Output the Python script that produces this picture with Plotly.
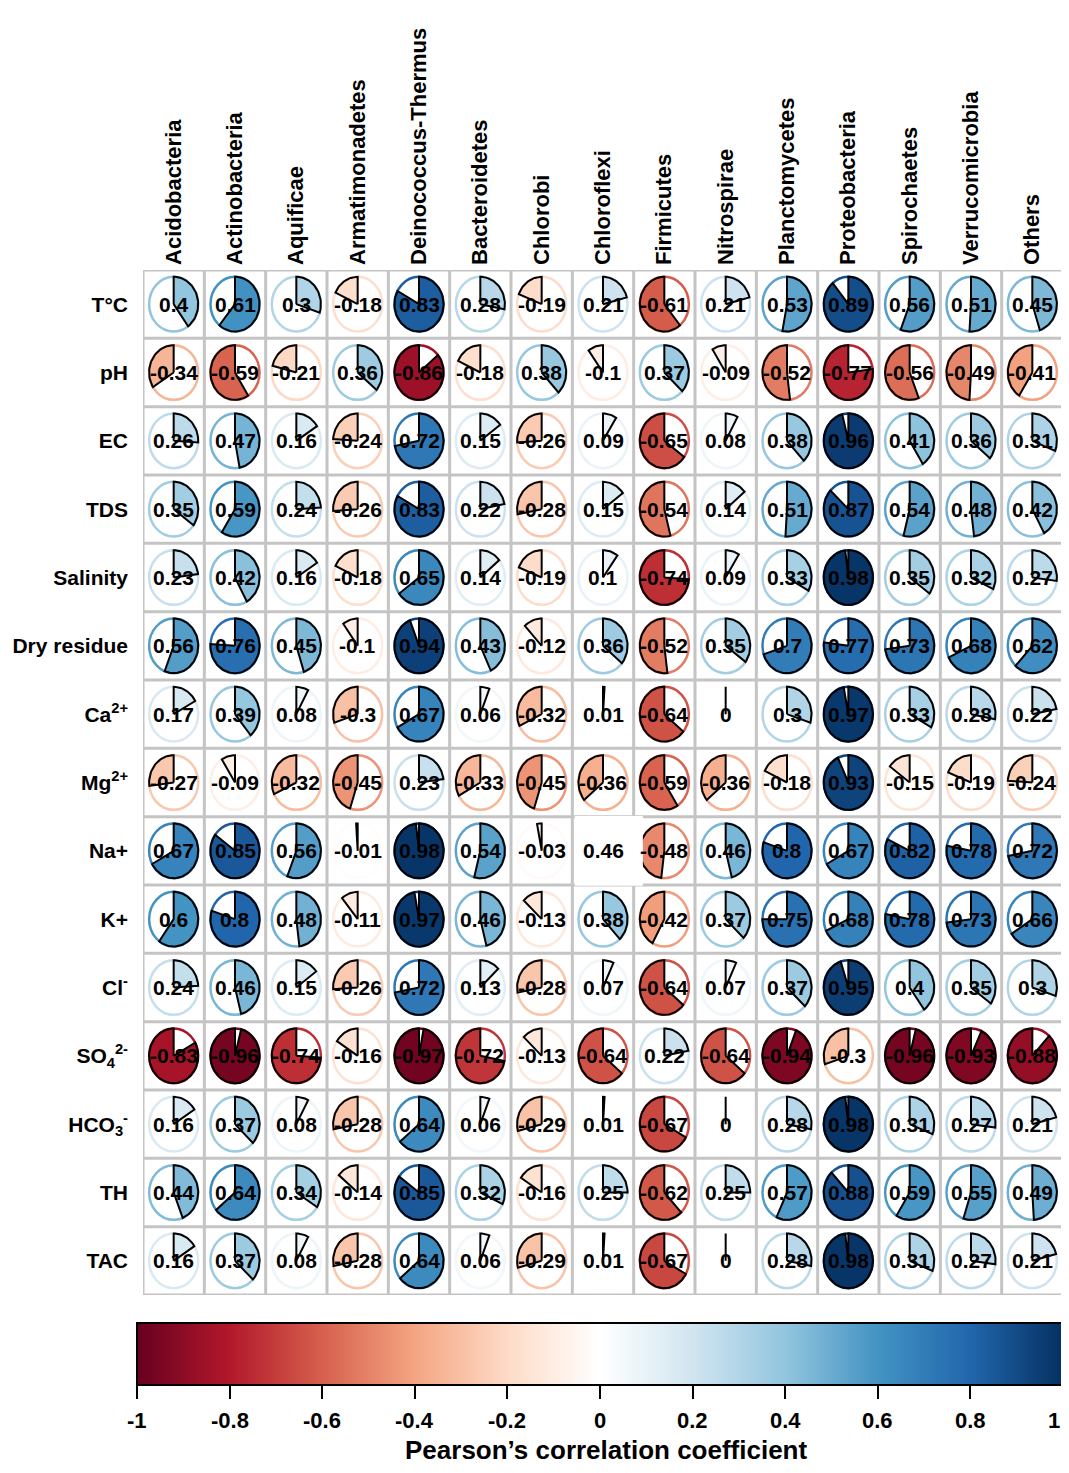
import numpy as np
import plotly.graph_objects as go
from plotly.colors import sample_colorscale

phyla = ["Acidobacteria", "Actinobacteria", "Aquificae", "Armatimonadetes",
         "Deinococcus-Thermus", "Bacteroidetes", "Chlorobi", "Chloroflexi",
         "Firmicutes", "Nitrospirae", "Planctomycetes", "Proteobacteria",
         "Spirochaetes", "Verrucomicrobia", "Others"]

params = ["T°C", "pH", "EC", "TDS", "Salinity", "Dry residue",
          "Ca<sup>2+</sup>", "Mg<sup>2+</sup>", "Na+", "K+", "Cl<sup>-</sup>",
          "SO<sub>4</sub><sup>2-</sup>", "HCO<sub>3</sub><sup>-</sup>", "TH", "TAC"]

# correlation of each parameter with the phyla (same order as phyla)
temp = [0.4, 0.61, 0.3, -0.18, 0.83, 0.28, -0.19, 0.21, -0.61, 0.21, 0.53, 0.89, 0.56, 0.51, 0.45]
ph = [-0.34, -0.59, -0.21, 0.36, -0.86, -0.18, 0.38, -0.1, 0.37, -0.09, -0.52, -0.77, -0.56, -0.49, -0.41]
ec = [0.26, 0.47, 0.16, -0.24, 0.72, 0.15, -0.26, 0.09, -0.65, 0.08, 0.38, 0.96, 0.41, 0.36, 0.31]
tds = [0.35, 0.59, 0.24, -0.26, 0.83, 0.22, -0.28, 0.15, -0.54, 0.14, 0.51, 0.87, 0.54, 0.48, 0.42]
salinity = [0.23, 0.42, 0.16, -0.18, 0.65, 0.14, -0.19, 0.1, -0.74, 0.09, 0.33, 0.98, 0.35, 0.32, 0.27]
dry_residue = [0.56, 0.76, 0.45, -0.1, 0.94, 0.43, -0.12, 0.36, -0.52, 0.35, 0.7, 0.77, 0.73, 0.68, 0.62]
ca = [0.17, 0.39, 0.08, -0.3, 0.67, 0.06, -0.32, 0.01, -0.64, 0, 0.3, 0.97, 0.33, 0.28, 0.22]
mg = [-0.27, -0.09, -0.32, -0.45, 0.23, -0.33, -0.45, -0.36, -0.59, -0.36, -0.18, 0.93, -0.15, -0.19, -0.24]
na = [0.67, 0.85, 0.56, -0.01, 0.98, 0.54, -0.03, 0.46, -0.48, 0.46, 0.8, 0.67, 0.82, 0.78, 0.72]
k = [0.6, 0.8, 0.48, -0.11, 0.97, 0.46, -0.13, 0.38, -0.42, 0.37, 0.75, 0.68, 0.78, 0.73, 0.66]
cl = [0.24, 0.46, 0.15, -0.26, 0.72, 0.13, -0.28, 0.07, -0.64, 0.07, 0.37, 0.95, 0.4, 0.35, 0.3]
so4 = [-0.83, -0.96, -0.74, -0.16, -0.97, -0.72, -0.13, -0.64, 0.22, -0.64, -0.94, -0.3, -0.96, -0.93, -0.88]
hco3 = [0.16, 0.37, 0.08, -0.28, 0.64, 0.06, -0.29, 0.01, -0.67, 0, 0.28, 0.98, 0.31, 0.27, 0.21]
th = [0.44, 0.64, 0.34, -0.14, 0.85, 0.32, -0.16, 0.25, -0.62, 0.25, 0.57, 0.88, 0.59, 0.55, 0.49]
tac = [0.16, 0.37, 0.08, -0.28, 0.64, 0.06, -0.29, 0.01, -0.67, 0, 0.28, 0.98, 0.31, 0.27, 0.21]

corr = [temp, ph, ec, tds, salinity, dry_residue, ca, mg, na, k, cl, so4, hco3, th, tac]

cbar_ticks = [-1, -0.8, -0.6, -0.4, -0.2, 0, 0.2, 0.4, 0.6, 0.8, 1]

rdbu = ["#67001F", "#B2182B", "#D6604D", "#F4A582", "#FDDBC7", "#FFFFFF",
        "#D1E5F0", "#92C5DE", "#4393C3", "#2166AC", "#053061"]
scale = [[i / 10, c] for i, c in enumerate(rdbu)]

FONT = "Liberation Sans, Arial, sans-serif"

n_rows, n_cols = len(params), len(phyla)
r = 0.4

# the page body adds an 8px margin; keep the whole page inside the window
W, H = 1061, 1457
L, T = 135, 262
PLOT_W, PLOT_H = 920, 1025
CB_LEFT, CB_LEN = 129, 926   # colorbar left edge and length in figure pixels

fig = go.Figure()
shapes = []
annotations = []

# grid
for g in range(n_cols + 1):
    shapes.append(dict(type="line", x0=g - 0.5, x1=g - 0.5, y0=-0.5, y1=n_rows - 0.5,
                       line=dict(color="#C4C4C4", width=3), layer="below"))
for g in range(n_rows + 1):
    shapes.append(dict(type="line", x0=-0.5, x1=n_cols - 0.5, y0=g - 0.5, y1=g - 0.5,
                       line=dict(color="#C4C4C4", width=3), layer="below"))

for i, row in enumerate(corr):
    y = n_rows - 1 - i
    for j, v in enumerate(row):
        col = sample_colorscale(scale, [(v + 1) / 2])[0]
        shapes.append(dict(type="circle", x0=j - r, x1=j + r, y0=y - r, y1=y + r,
                           line=dict(color=col, width=2.5), layer="below"))
        t = np.linspace(0, v * 2 * np.pi, max(2, int(abs(v) * 120)))
        px = np.concatenate([[j], j + r * np.sin(t), [j]])
        py = np.concatenate([[y], y + r * np.cos(t), [y]])
        fig.add_trace(go.Scatter(x=px, y=py, mode="lines", fill="toself",
                                 fillcolor=col, line=dict(color="black", width=2),
                                 hoverinfo="skip", showlegend=False))
        annotations.append(dict(x=j, y=y, text=f"{v:g}", showarrow=False,
                                font=dict(family=FONT, size=21, color="black", weight="bold")))

# white patch seen over the Chloroflexi / Na+ cell in the original
ci, ri = phyla.index("Chloroflexi"), n_rows - 1 - params.index("Na+")
shapes.append(dict(type="rect", x0=ci - 0.46, x1=ci + 0.65, y0=ri - 0.51, y1=ri + 0.51,
                   fillcolor="white", line=dict(width=0), layer="above"))

# colorbar tick labels and title
for tv in cbar_ticks:
    fx = CB_LEFT + (tv + 1) / 2 * CB_LEN
    last = tv == cbar_ticks[-1]
    annotations.append(dict(text=f"{tv:g}", showarrow=False, xref="paper", yref="paper",
                            x=(min(fx, W - 7) - L) / PLOT_W, y=-(1412 - (T + PLOT_H)) / PLOT_H,
                            xanchor="right" if last else "center", yanchor="middle",
                            font=dict(family=FONT, size=22, color="black", weight="bold")))
annotations.append(dict(text="Pearson’s correlation coefficient", showarrow=False,
                        xref="paper", yref="paper", x=(598 - L) / PLOT_W,
                        y=-(1442 - (T + PLOT_H)) / PLOT_H, xanchor="center", yanchor="middle",
                        font=dict(family=FONT, size=26, color="black", weight="bold")))

# colorbar
fig.add_trace(go.Scatter(
    x=[0], y=[0], mode="markers", hoverinfo="skip", showlegend=False,
    marker=dict(size=0.1, opacity=0, color=[0], cmin=-1, cmax=1, colorscale=scale,
                showscale=True,
                colorbar=dict(orientation="h", x=(CB_LEFT + CB_LEN / 2 - L) / PLOT_W,
                              xanchor="center", y=-28 / PLOT_H, yanchor="top",
                              lenmode="pixels", len=CB_LEN,
                              thickness=62, xpad=0, ypad=0,
                              outlinecolor="black", outlinewidth=2,
                              ticks="outside", ticklen=13, tickwidth=2, tickcolor="black",
                              tickvals=[min(t, 0.99999) for t in cbar_ticks],
                              showticklabels=False))))

fig.update_layout(
    width=W, height=H,
    margin=dict(l=L, r=W - L - PLOT_W, t=T, b=H - T - PLOT_H, autoexpand=False),
    plot_bgcolor="white", paper_bgcolor="white",
    shapes=shapes, annotations=annotations,
    xaxis=dict(range=[-0.5, n_cols - 0.5], side="top", tickvals=list(range(n_cols)),
               ticktext=phyla, tickangle=-90, showgrid=False, zeroline=False,
               showline=False, ticks="", ticklabelstandoff=4, automargin=False,
               tickfont=dict(family=FONT, size=22, color="black", weight="bold")),
    yaxis=dict(range=[-0.5, n_rows - 0.5], tickvals=list(range(n_rows)),
               ticktext=params[::-1], showgrid=False, zeroline=False, showline=False,
               ticks="", ticklabelstandoff=14, automargin=False,
               tickfont=dict(family=FONT, size=21, color="black", weight="bold")),
)

fig.write_html("out.html")
